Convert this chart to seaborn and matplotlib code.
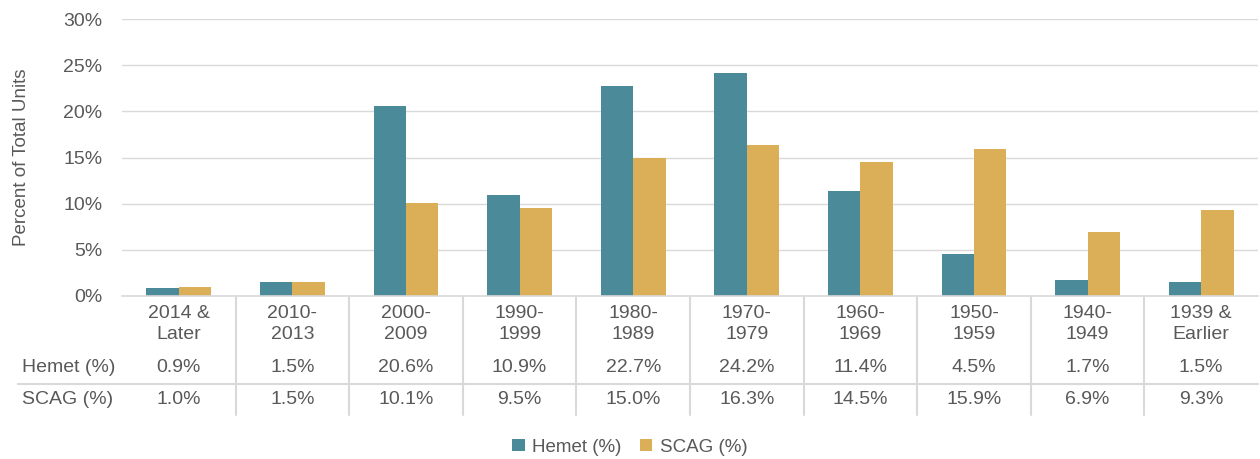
import pandas as pd
import seaborn as sns
import matplotlib.pyplot as plt
import matplotlib.transforms as mtransforms
from matplotlib.ticker import PercentFormatter

categories = ['2014 &\nLater', '2010-\n2013', '2000-\n2009', '1990-\n1999', '1980-\n1989',
              '1970-\n1979', '1960-\n1969', '1950-\n1959', '1940-\n1949', '1939 &\nEarlier']
hemet = [0.9, 1.5, 20.6, 10.9, 22.7, 24.2, 11.4, 4.5, 1.7, 1.5]
scag = [1.0, 1.5, 10.1, 9.5, 15.0, 16.3, 14.5, 15.9, 6.9, 9.3]
series_names = ['Hemet (%)', 'SCAG (%)']

df = pd.DataFrame({'period': categories * 2,
                   'series': [series_names[0]] * len(hemet) + [series_names[1]] * len(scag),
                   'value': hemet + scag})

sns.set_style('white')
plt.rcParams['font.family'] = ['Liberation Sans', 'DejaVu Sans']
text_col = '#595959'
line_col = '#D9D9D9'
colors = ['#4A8A99', '#DBAE58']
fs = 14

W, H = 1260, 459
fig = plt.figure(figsize=(12.6, 4.59), dpi=100)
ax = fig.add_axes([122 / W, (H - 296) / H, 1136 / W, 277 / H])

sns.barplot(data=df, x='period', y='value', hue='series', palette=colors,
            width=0.57, saturation=1, linewidth=0, ax=ax, legend=True)

ax.set_ylim(0, 30)
ax.set_xlim(-0.5, len(categories) - 0.5)
ax.set_yticks(range(0, 31, 5))
ax.yaxis.set_major_formatter(PercentFormatter(decimals=0))
ax.tick_params(axis='y', length=0, pad=14, labelsize=fs, labelcolor=text_col)
ax.set_xticks([])
ax.set_xlabel('')
ax.set_ylabel('Percent of Total Units', fontsize=13.5, color=text_col)
ax.yaxis.set_label_coords(-92 / 1136, 0.5)
ax.grid(axis='y', color=line_col, linewidth=1)
ax.set_axisbelow(True)
for s in ['top', 'right', 'left']:
    ax.spines[s].set_visible(False)
ax.spines['bottom'].set_color(line_col)
ax.spines['bottom'].set_linewidth(1.2)

# data table below the bars
trans = mtransforms.blended_transform_factory(ax.transData, ax.transAxes)
def yfrac(py):
    return (296 - py) / 277

for i, cat in enumerate(categories):
    ax.text(i, yfrac(324), cat, transform=trans, ha='center', va='center',
            fontsize=fs, color=text_col, linespacing=1.32)
    ax.text(i, yfrac(367), f'{hemet[i]:.1f}%', transform=trans, ha='center', va='center',
            fontsize=fs, color=text_col)
    ax.text(i, yfrac(399), f'{scag[i]:.1f}%', transform=trans, ha='center', va='center',
            fontsize=fs, color=text_col)

for k in range(len(categories) - 1):
    ax.plot([k + 0.5, k + 0.5], [yfrac(297), yfrac(415)], transform=trans,
            color=line_col, linewidth=1.5, clip_on=False)

fig.add_artist(plt.Line2D([18 / W, 1258 / W], [(H - 384) / H] * 2, color=line_col, linewidth=1.5))
fig.text(22 / W, (H - 367) / H, series_names[0], ha='left', va='center', fontsize=fs, color=text_col)
fig.text(22 / W, (H - 399) / H, series_names[1], ha='left', va='center', fontsize=fs, color=text_col)

handles, labels = ax.get_legend_handles_labels()
ax.get_legend().remove()
fig.legend(handles, labels, loc='center', bbox_to_anchor=(0.5, (H - 447) / H), ncol=2,
           frameon=False, fontsize=13.5, labelcolor=text_col, handlelength=0.65, handleheight=0.65,
           handletextpad=0.4, columnspacing=1.0)

fig.savefig('out.png', dpi=100)
